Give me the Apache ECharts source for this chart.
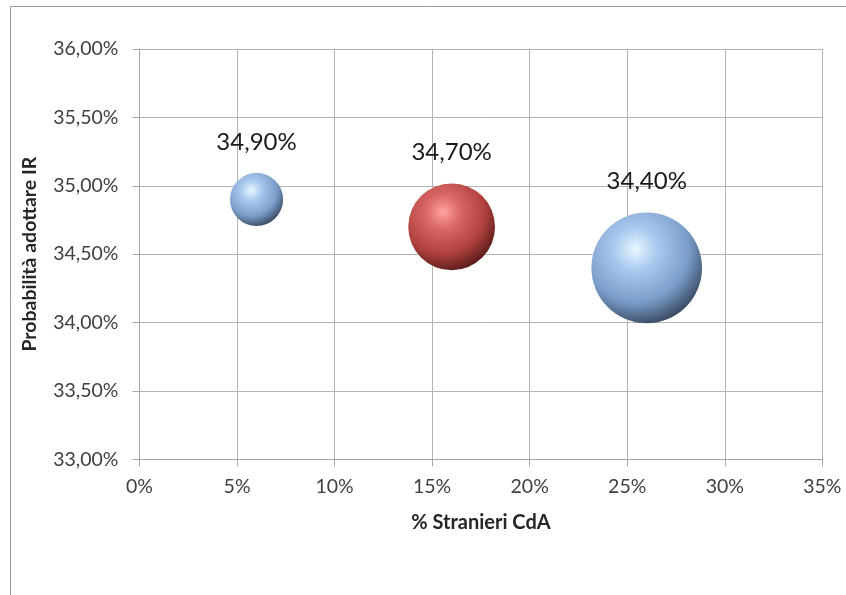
<!DOCTYPE html>
<html>
<head>
<meta charset="utf-8">
<script src="https://cdn.jsdelivr.net/npm/echarts@6/dist/echarts.min.js"></script>
<style>
  html, body { margin: 0; padding: 0; background: #ffffff; }
  #chart { width: 846px; height: 595px; }
</style>
</head>
<body>
<div id="chart"></div>
<script>
// Share of foreign board members (x), probability of adopting IR (y), bubble weight
const stranieri = [0.06, 0.16, 0.26];
const probabilita = [0.349, 0.347, 0.344];
const pesi = [6, 16, 26];
const evidenziato = [false, true, false];

const xTitle = '% Stranieri CdA';
const yTitle = 'Probabilità adottare IR';

const FONT = 'Lato, "Open Sans", "Noto Sans", sans-serif';

function sphere(light, mid, edge, dark) {
  return {
    type: 'radial', x: 0.4, y: 0.33, r: 0.8,
    colorStops: [
      { offset: 0, color: light },
      { offset: 0.25, color: mid },
      { offset: 0.6, color: edge },
      { offset: 1, color: dark }
    ]
  };
}
const blueFill = sphere('#e8f7ff', '#a8c8ee', '#7b9dca', '#18222f');
const redFill = sphere('#ffa3a3', '#d96765', '#b0413e', '#300a09');

const points = stranieri.map((x, i) => ({
  value: [x, probabilita[i], pesi[i]],
  itemStyle: { color: evidenziato[i] ? redFill : blueFill }
}));

function pctComma(v) {
  return (v * 100).toFixed(2).replace('.', ',') + '%';
}

const chart = echarts.init(document.getElementById('chart'), null, { renderer: 'canvas' });
chart.setOption({
  animation: false,
  backgroundColor: '#ffffff',
  textStyle: { fontFamily: FONT },
  graphic: [{
    type: 'rect',
    shape: { x: 10.5, y: 6.5, width: 900, height: 700 },
    style: { fill: 'none', stroke: '#9a9a9a', lineWidth: 1 },
    silent: true
  }],
  grid: { left: 139.5, right: 23.7, top: 49, bottom: 135.7 },
  xAxis: {
    type: 'value', min: 0, max: 0.35, interval: 0.05,
    name: xTitle, nameLocation: 'middle', nameGap: 53,
    nameTextStyle: { fontFamily: FONT, fontWeight: 'bold', fontSize: 20, color: '#262626' },
    axisLine: { show: true, lineStyle: { color: '#a6a6a6', width: 1 } },
    axisTick: { show: true, length: 7, lineStyle: { color: '#a6a6a6' } },
    axisLabel: {
      margin: 17, fontFamily: FONT, fontSize: 19.5, color: '#404040',
      formatter: v => Math.round(v * 100) + '%'
    },
    splitLine: { show: true, lineStyle: { color: '#b4b4b4', width: 1 } }
  },
  yAxis: {
    type: 'value', min: 0.33, max: 0.36, interval: 0.005,
    name: yTitle, nameLocation: 'middle', nameGap: 100, nameRotate: 90,
    nameTextStyle: { fontFamily: FONT, fontWeight: 'bold', fontSize: 19.5, color: '#262626' },
    axisLine: { show: true, lineStyle: { color: '#a6a6a6', width: 1 } },
    axisTick: { show: true, length: 7, lineStyle: { color: '#a6a6a6' } },
    axisLabel: {
      margin: 21, fontFamily: FONT, fontSize: 19.5, color: '#404040',
      formatter: v => pctComma(v)
    },
    splitLine: { show: true, lineStyle: { color: '#b4b4b4', width: 1 } }
  },
  series: [{
    type: 'scatter',
    data: points,
    symbol: 'circle',
    symbolSize: d => 21.7 * Math.sqrt(d[2]),
    itemStyle: { opacity: 1 },
    label: {
      show: true, position: 'top', distance: 19,
      fontFamily: FONT, fontSize: 24, color: '#1a1a1a',
      formatter: p => pctComma(p.value[1])
    }
  }]
});
</script>
</body>
</html>
